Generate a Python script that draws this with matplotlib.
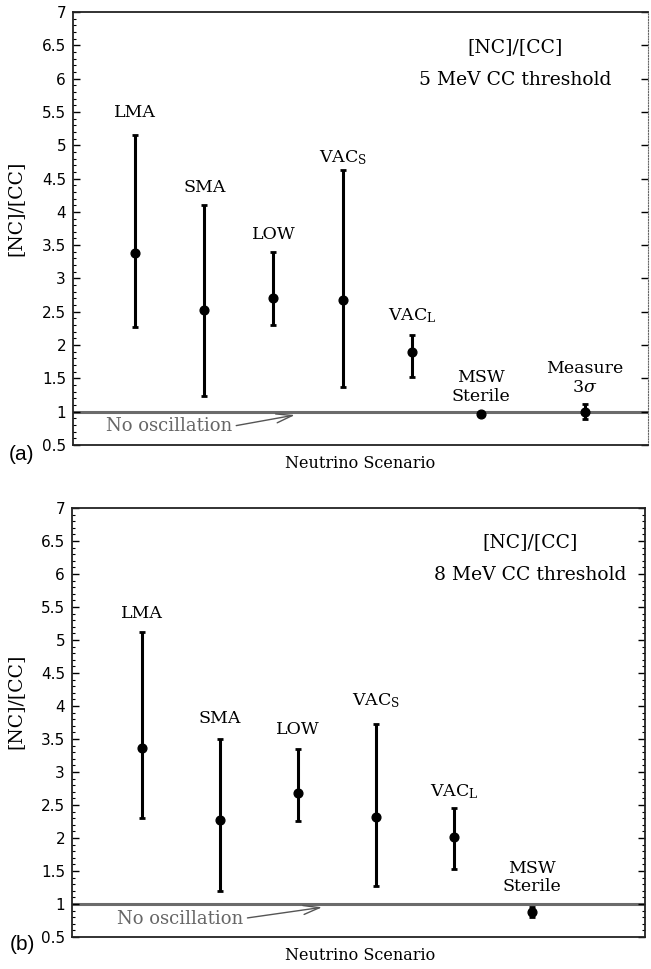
import numpy as np
import matplotlib
matplotlib.use('Agg')
import matplotlib.pyplot as plt
from matplotlib.ticker import MultipleLocator

plt.rcParams['mathtext.fontset'] = 'dejavuserif'

# panel (a): 5 MeV CC threshold
scen_a = ['LMA', 'SMA', 'LOW', 'VAC$_\\mathrm{S}$', 'VAC$_\\mathrm{L}$',
          'MSW\nSterile', 'Measure\n3$\\sigma$']
pos_a = [1, 2, 3, 4, 5, 6, 7.5]
ratio_a = [3.38, 2.53, 2.71, 2.68, 1.90, 0.965, 1.00]
hi_a = [5.15, 4.11, 3.39, 4.63, 2.15, 0.98, 1.11]
lo_a = [2.27, 1.24, 2.30, 1.37, 1.52, 0.95, 0.89]

# panel (b): 8 MeV CC threshold
scen_b = ['LMA', 'SMA', 'LOW', 'VAC$_\\mathrm{S}$', 'VAC$_\\mathrm{L}$',
          'MSW\nSterile']
pos_b = [1, 2, 3, 4, 5, 6]
ratio_b = [3.36, 2.27, 2.68, 2.32, 2.01, 0.88]
hi_b = [5.12, 3.50, 3.35, 3.73, 2.45, 0.95]
lo_b = [2.30, 1.20, 2.26, 1.27, 1.53, 0.81]

SERIF = 'DejaVu Serif'
SANS = 'DejaVu Sans'
W, H = 651, 969

fig = plt.figure(figsize=(W / 100, H / 100), dpi=100)


def draw_panel(rect, pos, ratio, hi, lo, names, pads, xlim, thresh,
               title_xy, right_minor, right_dotted):
    ax = fig.add_axes(rect)
    pos = np.array(pos)
    ratio = np.array(ratio)
    hi = np.array(hi)
    lo = np.array(lo)

    # no-oscillation reference
    ax.axhline(1.0, color='#6b6b6b', lw=2.2, zorder=1)

    ax.errorbar(pos, ratio, yerr=[ratio - lo, hi - ratio], fmt='o',
                color='black', ms=6.3, elinewidth=2.2, capsize=2.4,
                capthick=2.0, zorder=3)

    for x, top, name, pad in zip(pos, hi, names, pads):
        ax.annotate(name, (x, top), xytext=(0, pad), textcoords='offset points',
                    ha='center', va='bottom', fontsize=12.5, family=SERIF,
                    linespacing=1.15)

    ax.annotate('No oscillation', xy=(3.31, 0.95), xytext=(1.49, 0.78),
                ha='center', va='center', fontsize=13, family=SERIF,
                color='#666666',
                arrowprops=dict(arrowstyle='->,head_length=0.9,head_width=0.25',
                                color='#555555', lw=1.0, shrinkA=1, shrinkB=0,
                                relpos=(1.0, 0.5)))

    ax.text(title_xy[0], title_xy[1], '[NC]/[CC]', transform=ax.transAxes,
            ha='center', va='center', fontsize=13.5, family=SERIF)
    ax.text(title_xy[0], title_xy[1] - 0.077, thresh, transform=ax.transAxes,
            ha='center', va='center', fontsize=13.5, family=SERIF)

    ax.set_xlim(*xlim)
    ax.set_ylim(0.5, 7)
    ax.set_xticks([])
    ax.yaxis.set_major_locator(MultipleLocator(0.5))
    ax.yaxis.set_minor_locator(MultipleLocator(0.1))
    ax.set_yticks(np.arange(0.5, 7.01, 0.5))
    ax.set_yticklabels(['%g' % v for v in np.arange(0.5, 7.01, 0.5)])
    ax.tick_params(axis='y', which='major', direction='in', length=5,
                   width=1.0, pad=5, labelsize=11, right=True)
    ax.tick_params(axis='y', which='minor', direction='in', length=2.5,
                   width=0.8, left=True, right=right_minor)
    for lab in ax.get_yticklabels():
        lab.set_family(SANS)

    for side in ['left', 'top', 'bottom']:
        ax.spines[side].set_linewidth(1.3)
        ax.spines[side].set_color('#222222')
    if right_dotted:
        ax.spines['right'].set_linestyle((0, (1, 1.5)))
        ax.spines['right'].set_linewidth(0.8)
        ax.spines['right'].set_color('#666666')
    else:
        ax.spines['right'].set_linewidth(1.3)
        ax.spines['right'].set_color('#222222')
    return ax


ax_a = draw_panel([73 / W, 1 - 445 / H, 575 / W, 433 / H],
                  pos_a, ratio_a, hi_a, lo_a, scen_a,
                  [10, 6, 7, 2, 7, 6, 6], (0.104, 8.41),
                  '5 MeV CC threshold', (0.769, 0.919),
                  right_minor=False, right_dotted=True)

ax_b = draw_panel([72 / W, 1 - 937 / H, 573 / W, 429 / H],
                  pos_b, ratio_b, hi_b, lo_b, scen_b,
                  [7, 8.5, 8, 10, 5.5, 8.5], (0.103, 7.45),
                  '8 MeV CC threshold', (0.799, 0.921),
                  right_minor=True, right_dotted=False)

# axis titles and panel tags, placed in figure pixels
for ylab_y, tag, tag_y, xl_y in [(208, '(a)', 454, 463), (701, '(b)', 944, 955)]:
    fig.text(15 / W, 1 - ylab_y / H, '[NC]/[CC]', rotation=90, ha='center',
             va='center', fontsize=13.5, family=SERIF)
    fig.text(22 / W, 1 - tag_y / H, tag, ha='center', va='center',
             fontsize=15, family='Liberation Sans')
    fig.text(360 / W, 1 - xl_y / H, 'Neutrino Scenario', ha='center',
             va='center', fontsize=11.5, family=SERIF)

fig.savefig('out.png', dpi=100)
